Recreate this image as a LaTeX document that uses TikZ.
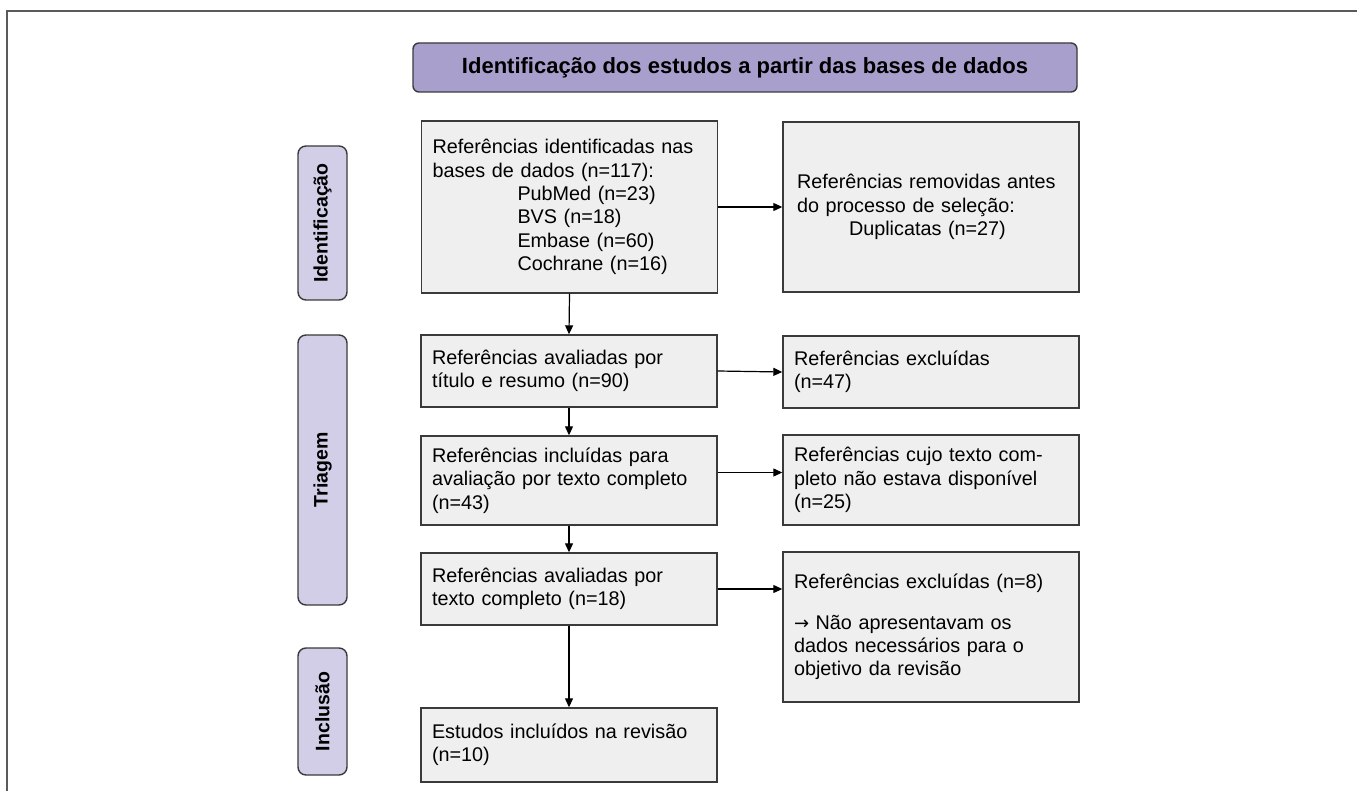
\documentclass[tikz,border=0pt]{standalone}
\usepackage{fontspec}
\setmainfont{Liberation Sans}
\newfontfamily\arrowfont{DejaVu Sans}
\usetikzlibrary{arrows.meta}
\definecolor{titlefill}{HTML}{A99FCC}
\definecolor{sidefill}{HTML}{D3CEE8}
\definecolor{boxfill}{HTML}{EFEFEF}
\definecolor{edge}{HTML}{3A3A3A}
\definecolor{framec}{HTML}{5A5A5A}
\newcommand{\sarrow}{{\arrowfont\fontsize{18pt}{18pt}\selectfont →}}
\begin{document}
\begin{tikzpicture}[x=1pt,y=-1pt,
  box/.style={draw=edge, line width=1.4pt, fill=boxfill, minimum width=296pt,
    inner xsep=11pt, inner ysep=4pt, text width=274pt, align=left,
    font=\fontsize{19.8pt}{23.3pt}\selectfont},
  side/.style={draw=edge, line width=1.4pt, fill=sidefill, rounded corners=8pt,
    rotate=90, minimum height=49pt, inner sep=2pt,
    font=\fontsize{19.5pt}{23pt}\selectfont\bfseries},
  arr/.style={draw=black, line width=1.2pt, -{Triangle[length=9pt,width=8pt]}}]
\useasboundingbox (0,0) rectangle (1357,791);
\draw[framec, line width=2pt] (7,791) -- (7,11) -- (1357,11);

\node[draw=edge, line width=1.4pt, fill=titlefill, rounded corners=6pt,
  minimum width=664pt, minimum height=49pt,
  font=\fontsize{22pt}{24pt}\selectfont\bfseries] (title) at (745,67.5)
  {Identificação dos estudos a partir das bases de dados};

\node[side, minimum width=154pt] (s1) at (322.5,223) {Identificação};
\node[side, minimum width=270pt] (s2) at (322.5,470) {Triagem};
\node[side, minimum width=127pt] (s3) at (322.5,711.5) {Inclusão};

\node[box, minimum height=172pt] (b1) at (569.5,207)
  {Referências identificadas nas\\bases de dados (n=117):\\
   \hspace*{85pt}PubMed (n=23)\\\hspace*{85pt}BVS (n=18)\\
   \hspace*{85pt}Embase (n=60)\\\hspace*{85pt}Cochrane (n=16)};
\node[box, minimum height=170pt, inner xsep=14pt, text width=268pt] (b2) at (931,207)
  {Referências removidas antes\\do processo de seleção:\\
   \hspace*{52pt}Duplicatas (n=27)};
\node[box, minimum height=72pt] (b3) at (569,371)
  {Referências avaliadas por\\título e resumo (n=90)};
\node[box, minimum height=72pt] (b5) at (931,372)
  {Referências excluídas\\(n=47)};
\node[box, minimum height=89pt] (b4) at (569,480.5)
  {Referências incluídas para\\avaliação por texto completo\\(n=43)};
\node[box, minimum height=90pt] (b6) at (931,480)
  {Referências cujo texto com-\\pleto não estava disponível\\(n=25)};
\node[box, minimum height=72pt] (b7) at (569,589)
  {Referências avaliadas por\\texto completo (n=18)};
\node[box, minimum height=150pt] (b9) at (931,627)
  {Referências excluídas (n=8)\\[17pt]\sarrow{} Não apresentavam os\\dados necessários para o\\objetivo da revisão};
\node[box, minimum height=74pt] (b8) at (569,745)
  {Estudos incluídos na revisão\\(n=10)};

\draw[arr] (b1.east) -- (b2.west);
\draw[arr] (b3.east) -- (b5.west);
\draw[arr] ([yshift=8pt]b4.east) -- ([yshift=8pt]b4.east -| b6.west);
\draw[arr] (b7.east) -- (b7.east -| b9.west);
\draw[arr] (b1.south) -- (b3.north);
\draw[arr] (b3.south) -- (b4.north);
\draw[arr] (b4.south) -- (b7.north);
\draw[arr] (b7.south) -- (b8.north);
\end{tikzpicture}
\end{document}
